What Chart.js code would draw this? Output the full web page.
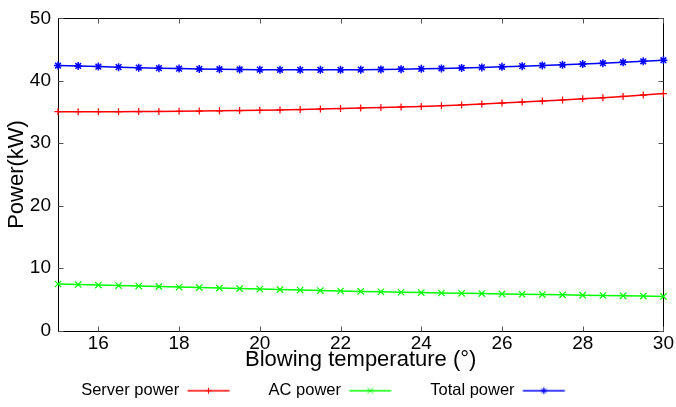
<!DOCTYPE html>
<html>
<head>
<meta charset="utf-8">
<title>Power vs blowing temperature</title>
<script src="https://cdn.jsdelivr.net/npm/chart.js@4.4.1/dist/chart.umd.min.js"></script>
<style>
  html, body { margin: 0; padding: 0; background: #fff; }
  #chart { display: block; }
</style>
</head>
<body>
<canvas id="chart" width="676" height="407"></canvas>
<script>
// Blowing temperature (°), one sample every half degree
const temps = [15, 15.5, 16, 16.5, 17, 17.5, 18, 18.5, 19, 19.5, 20, 20.5, 21, 21.5, 22,
  22.5, 23, 23.5, 24, 24.5, 25, 25.5, 26, 26.5, 27, 27.5, 28, 28.5, 29, 29.5, 30];

// Power readings in kW
const serverPower = [35.05, 35.05, 35.05, 35.06, 35.07, 35.09, 35.12, 35.15, 35.19, 35.23, 35.28,
  35.34, 35.40, 35.47, 35.55, 35.63, 35.71, 35.80, 35.90, 36.01, 36.14, 36.28, 36.43, 36.59,
  36.76, 36.93, 37.11, 37.30, 37.50, 37.72, 37.95];
const acPower = [7.45, 7.37, 7.28, 7.20, 7.12, 7.04, 6.96, 6.88, 6.80, 6.72, 6.64, 6.56, 6.48,
  6.40, 6.33, 6.26, 6.19, 6.13, 6.07, 6.01, 5.96, 5.91, 5.86, 5.81, 5.76, 5.71, 5.66, 5.61,
  5.56, 5.51, 5.45];
const totalPower = [42.45, 42.38, 42.28, 42.19, 42.11, 42.03, 41.96, 41.90, 41.86, 41.82, 41.79,
  41.77, 41.76, 41.76, 41.77, 41.79, 41.82, 41.86, 41.92, 41.98, 42.06, 42.15, 42.25, 42.35,
  42.46, 42.57, 42.69, 42.82, 42.97, 43.13, 43.30];

const xTickValues = [16, 18, 20, 22, 24, 26, 28, 30];
const yTickValues = [0, 10, 20, 30, 40, 50];

const FONT = 'Liberation Sans, Arial, Helvetica, sans-serif';
const TICK_LEN = 5;
const SAMPLE_LINE = 42;   // visible length of a legend sample
const SAMPLE_EXTRA = 29;  // blank space kept after each sample

const series = [
  { label: 'Server power', values: serverPower, color: '#ff0000', style: 'cross', radius: 3.5, width: 1.2 },
  { label: 'AC power', values: acPower, color: '#00ff00', style: 'crossRot', radius: 4.5, width: 1.2 },
  { label: 'Total power', values: totalPower, color: '#0000ff', style: 'star', radius: 4, width: 1.5 }
];

function drawMarker(g, style, r, cx, cy) {
  g.beginPath();
  if (style !== 'crossRot') {
    g.moveTo(cx - r, cy); g.lineTo(cx + r, cy);
    g.moveTo(cx, cy - r); g.lineTo(cx, cy + r);
  }
  if (style !== 'cross') {
    const d = r * Math.SQRT1_2;
    g.moveTo(cx - d, cy - d); g.lineTo(cx + d, cy + d);
    g.moveTo(cx - d, cy + d); g.lineTo(cx + d, cy - d);
  }
  g.stroke();
}

// Line-with-marker sample used as the legend point style
function legendSample(s) {
  const c = document.createElement('canvas');
  c.width = SAMPLE_LINE + 2 * SAMPLE_EXTRA;
  c.height = 12;
  const g = c.getContext('2d');
  const x0 = SAMPLE_EXTRA / 2;
  const mid = 6;
  g.strokeStyle = s.color;
  g.globalAlpha = 0.75;
  g.lineWidth = 2;
  g.beginPath();
  g.moveTo(x0, mid);
  g.lineTo(x0 + SAMPLE_LINE, mid);
  g.stroke();
  g.globalAlpha = 1;
  g.lineWidth = 1;
  drawMarker(g, s.style, s.radius - 0.5, x0 + SAMPLE_LINE / 2, mid);
  return c;
}

const samples = series.map(legendSample);

// Closed frame with inward ticks on every side
const framePlugin = {
  id: 'frame',
  beforeDatasetsDraw(chart) {
    const { ctx, chartArea: a, scales: { x, y } } = chart;
    const l = Math.round(a.left) + 0.5, r = Math.round(a.right) + 0.5;
    const t = Math.round(a.top) + 0.5, b = Math.round(a.bottom) + 0.5;
    ctx.save();
    ctx.strokeStyle = '#000';
    ctx.lineWidth = 1;
    ctx.strokeRect(l, t, r - l, b - t);
    ctx.strokeStyle = '#555';
    ctx.beginPath();
    x.ticks.forEach((tk, i) => {
      const px = Math.round(x.getPixelForTick(i)) + 0.5;
      ctx.moveTo(px, b); ctx.lineTo(px, b - TICK_LEN);
      ctx.moveTo(px, t); ctx.lineTo(px, t + TICK_LEN);
    });
    y.ticks.forEach((tk, i) => {
      const py = Math.round(y.getPixelForTick(i)) + 0.5;
      ctx.moveTo(l, py); ctx.lineTo(l + TICK_LEN, py);
      ctx.moveTo(r, py); ctx.lineTo(r - TICK_LEN, py);
    });
    ctx.stroke();
    ctx.restore();
  }
};

new Chart(document.getElementById('chart'), {
  type: 'line',
  data: {
    datasets: series.map(s => ({
      label: s.label,
      data: temps.map((t, i) => ({ x: t, y: s.values[i] })),
      borderColor: s.color,
      backgroundColor: s.color,
      borderWidth: 1.5,
      pointStyle: s.style,
      pointRadius: s.radius,
      pointBorderWidth: s.width,
      pointBorderColor: s.color,
      pointHoverRadius: s.radius,
      tension: 0,
      fill: false,
      clip: false
    }))
  },
  options: {
    responsive: false,
    animation: false,
    layout: { padding: { top: 18, right: 1, bottom: -2, left: 0 } },
    scales: {
      x: {
        type: 'linear',
        min: 15,
        max: 30,
        grid: { display: false, drawTicks: false },
        border: { display: false },
        afterBuildTicks: scale => { scale.ticks = xTickValues.map(v => ({ value: v })); },
        afterFit: scale => { scale.height = 42; },
        ticks: { color: '#000', padding: 2, font: { family: FONT, size: 19 } },
        title: {
          display: true,
          text: 'Blowing temperature (°)',
          color: '#000',
          padding: { top: 0, bottom: -1 },
          font: { family: FONT, size: 22 }
        }
      },
      y: {
        min: 0,
        max: 50,
        grid: { display: false, drawTicks: false },
        border: { display: false },
        afterBuildTicks: scale => { scale.ticks = yTickValues.map(v => ({ value: v })); },
        afterFit: scale => { scale.width = 58; },
        ticks: { color: '#000', padding: 7, font: { family: FONT, size: 19 } },
        title: {
          display: true,
          text: 'Power(kW)',
          color: '#000',
          padding: { top: 4, bottom: 0 },
          font: { family: FONT, size: 22 }
        }
      }
    },
    plugins: {
      tooltip: { enabled: false },
      legend: {
        position: 'bottom',
        rtl: true,
        reverse: true,
        textDirection: 'ltr',
        labels: {
          usePointStyle: true,
          pointStyleWidth: SAMPLE_LINE + SAMPLE_EXTRA,
          padding: 10,
          color: '#000',
          font: { family: FONT, size: 16.5 },
          generateLabels: chart => chart.data.datasets.map((ds, i) => ({
            text: ds.label,
            datasetIndex: i,
            pointStyle: samples[i],
            fillStyle: ds.borderColor,
            strokeStyle: ds.borderColor,
            fontColor: '#000',
            lineWidth: 0,
            hidden: false
          }))
        }
      }
    }
  },
  plugins: [framePlugin]
});
</script>
</body>
</html>
